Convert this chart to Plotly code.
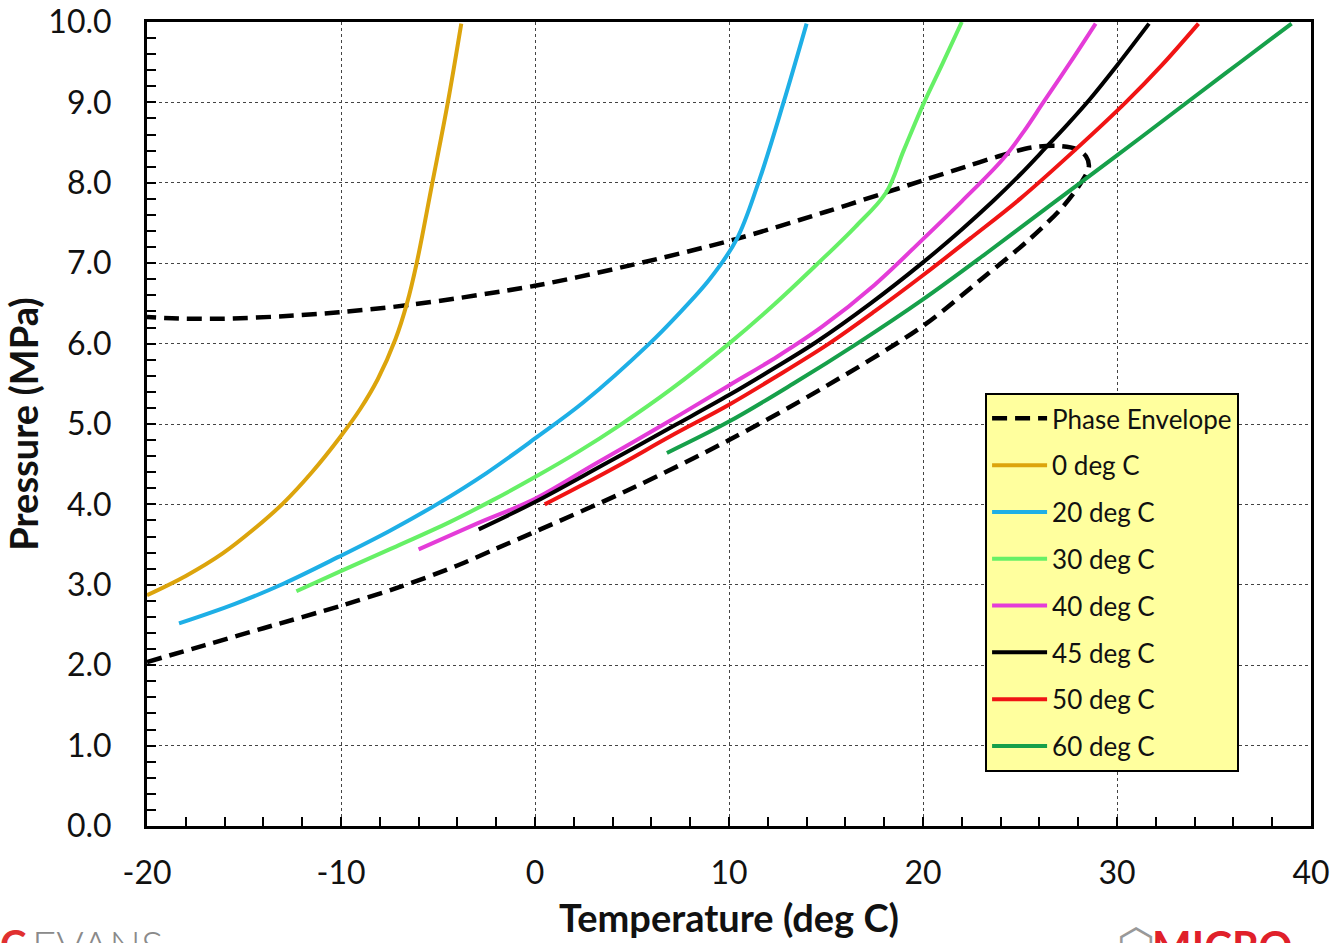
import plotly.graph_objects as go

# ---------------- data ----------------
env_T = [-20.0, -17.0, -14.0, -10.0, -7.0, -4.0, -2.0, 0.0, 5.0, 10.0, 15.0, 20.0, 23.0, 25.5,
         27.2, 28.2, 28.55, 28.4, 27.9, 26.9, 25.6, 23.9, 22.2, 20.0, 18.1, 15.0, 10.35, 4.85, 0.0,
         -6.5, -10.1, -13.0, -16.1, -18.0, -20.0]
env_P = [2.04, 2.25, 2.46, 2.74, 2.97, 3.24, 3.45, 3.66, 4.20, 4.80, 5.47, 6.22, 6.80, 7.30,
         7.70, 8.02, 8.20, 8.33, 8.42, 8.46, 8.44, 8.33, 8.20, 8.03, 7.88, 7.64, 7.30, 6.97, 6.72,
         6.48, 6.39, 6.34, 6.31, 6.31, 6.33]

t0_T = [-20.0, -18.0, -16.1, -14.5, -13.0, -11.5, -10.1, -9.0, -8.1, -7.2, -6.6, -6.1, -5.3, -4.5, -3.8]
t0_P = [2.87, 3.11, 3.39, 3.69, 4.01, 4.40, 4.82, 5.19, 5.56, 6.05, 6.50, 7.00, 7.99, 8.99, 9.98]

t20_T = [-18.35, -15.5, -13.0, -10.1, -7.5, -5.0, -2.5, 0.0, 2.5, 5.9, 7.25, 9.0, 10.4, 11.5, 12.8, 14.0]
t20_P = [2.52, 2.76, 3.01, 3.35, 3.67, 4.01, 4.39, 4.82, 5.27, 6.00, 6.33, 6.80, 7.30, 7.99, 8.99, 9.98]

t30_T = [-12.3, -10.1, -7.5, -4.4, -2.2, 0.0, 2.2, 4.4, 7.0, 10.0, 12.3, 14.55, 16.5, 18.1, 19.0, 20.0, 21.0, 22.0]
t30_P = [2.92, 3.16, 3.44, 3.78, 4.05, 4.34, 4.65, 4.99, 5.43, 6.00, 6.48, 6.99, 7.45, 7.88, 8.40, 8.97, 9.48, 10.0]

t40_T = [-6.0, -3.0, 0.0, 3.0, 6.6, 10.0, 12.5, 14.8, 17.5, 20.0, 22.0, 24.1, 25.2, 26.2, 27.6, 28.9]
t40_P = [3.44, 3.76, 4.07, 4.49, 4.99, 5.48, 5.84, 6.21, 6.73, 7.30, 7.77, 8.29, 8.64, 9.00, 9.50, 9.98]

t45_T = [-2.9, 0.0, 3.5, 7.25, 10.0, 12.3, 14.5, 17.3, 20.0, 22.0, 23.6, 25.0, 26.3, 27.5, 28.6, 30.0, 31.65]
t45_P = [3.69, 4.03, 4.49, 4.99, 5.36, 5.69, 6.02, 6.50, 7.01, 7.42, 7.77, 8.10, 8.43, 8.74, 9.04, 9.46, 9.98]

t50_T = [0.5, 2.5, 4.5, 7.0, 10.0, 12.5, 15.15, 17.5, 20.0, 22.5, 25.0, 27.8, 30.45, 32.3, 34.2]
t50_P = [4.00, 4.25, 4.51, 4.85, 5.24, 5.60, 6.00, 6.40, 6.85, 7.32, 7.80, 8.40, 9.00, 9.46, 9.98]

t60_T = [6.8, 10.0, 13.3, 16.6, 20.0, 23.3, 26.5, 30.0, 33.5, 36.3, 39.0]
t60_P = [4.64, 5.03, 5.50, 6.00, 6.55, 7.13, 7.71, 8.34, 8.98, 9.49, 9.98]

series_names = ["0 deg C", "20 deg C", "30 deg C", "40 deg C", "45 deg C", "50 deg C", "60 deg C"]
series_T = [t0_T, t20_T, t30_T, t40_T, t45_T, t50_T, t60_T]
series_P = [t0_P, t20_P, t30_P, t40_P, t45_P, t50_P, t60_P]
series_colors = ["#DCA40C", "#1EAFE6", "#66F066", "#E43CD8", "#000000", "#F01414", "#16A04A"]

x_tickvals = [-20, -10, 0, 10, 20, 30, 40]
x_ticktext = ["-20", "-10", "0", "10", "20", "30", "40"]

FONT = "Lato, 'Open Sans', sans-serif"

fig = go.Figure()

fig.add_trace(go.Scatter(
    x=env_T, y=env_P, mode="lines", name="Phase Envelope",
    line=dict(color="black", width=4.5, dash="15px,8px", shape="spline", smoothing=0.9),
    legendgroup="env",
))
for name, T, P, c in zip(series_names, series_T, series_P, series_colors):
    fig.add_trace(go.Scatter(
        x=T, y=P, mode="lines", name=name,
        line=dict(color=c, width=4, shape="spline", smoothing=1.0),
        legendgroup=name,
    ))

axis_common = dict(
    showline=True, linewidth=3, linecolor="black", mirror=True,
    showgrid=True, gridcolor="#444444", gridwidth=1, griddash="dot",
    ticks="inside", ticklen=9, tickwidth=1.5, tickcolor="black",
    zeroline=False,
    tickfont=dict(family=FONT, size=32, color="#111111"),
)

fig.update_xaxes(
    range=[-20, 40], tickvals=x_tickvals, ticktext=x_ticktext,
    minor=dict(ticks="inside", ticklen=9, tickwidth=1.5, tickcolor="black", dtick=2, tick0=-20, showgrid=False),
    ticklabelstandoff=17,
    title=dict(text="<b>Temperature (deg C)</b>", font=dict(family=FONT, size=38, color="#111111"), standoff=15),
    **axis_common,
)
fig.update_yaxes(
    range=[0, 10], dtick=1, tick0=0, tickformat=".1f",
    minor=dict(ticks="inside", ticklen=9, tickwidth=1.5, tickcolor="black", dtick=0.2, showgrid=False),
    ticklabelstandoff=26,
    title=dict(text="<b>Pressure (MPa)</b>", font=dict(family=FONT, size=38, color="#111111"), standoff=6),
    **axis_common,
)

fig.update_layout(
    width=1334, height=943,
    margin=dict(l=147, r=23, t=22, b=117, autoexpand=False),
    paper_bgcolor="white", plot_bgcolor="white",
    showlegend=True,
    legend=dict(
        x=0.72, y=0.5386, xanchor="left", yanchor="top",
        bgcolor="#FFFF9E", bordercolor="black", borderwidth=2,
        font=dict(family=FONT, size=26, color="#111111"),
        traceorder="grouped", tracegroupgap=10, itemwidth=55,
    ),
    annotations=[
        dict(text="<b>C</b>", xref="paper", yref="paper", x=-0.128, y=-0.114,
             xanchor="left", yanchor="top", showarrow=False,
             font=dict(family=FONT, size=40, color="#E03030")),
        dict(text="EVANS", xref="paper", yref="paper", x=-0.1005, y=-0.114,
             xanchor="left", yanchor="top", showarrow=False,
             font=dict(family="Lato Light, Lato, sans-serif", size=42, color="#8A8A8A")),
        dict(text="⬡", xref="paper", yref="paper", x=0.832, y=-0.113,
             xanchor="left", yanchor="top", showarrow=False,
             font=dict(family="DejaVu Sans", size=44, color="#999999")),
        dict(text="<b>MICRO</b>", xref="paper", yref="paper", x=0.862, y=-0.116,
             xanchor="left", yanchor="top", showarrow=False,
             font=dict(family=FONT, size=42, color="#E0202A")),
    ],
)

fig.write_html("out.html")
